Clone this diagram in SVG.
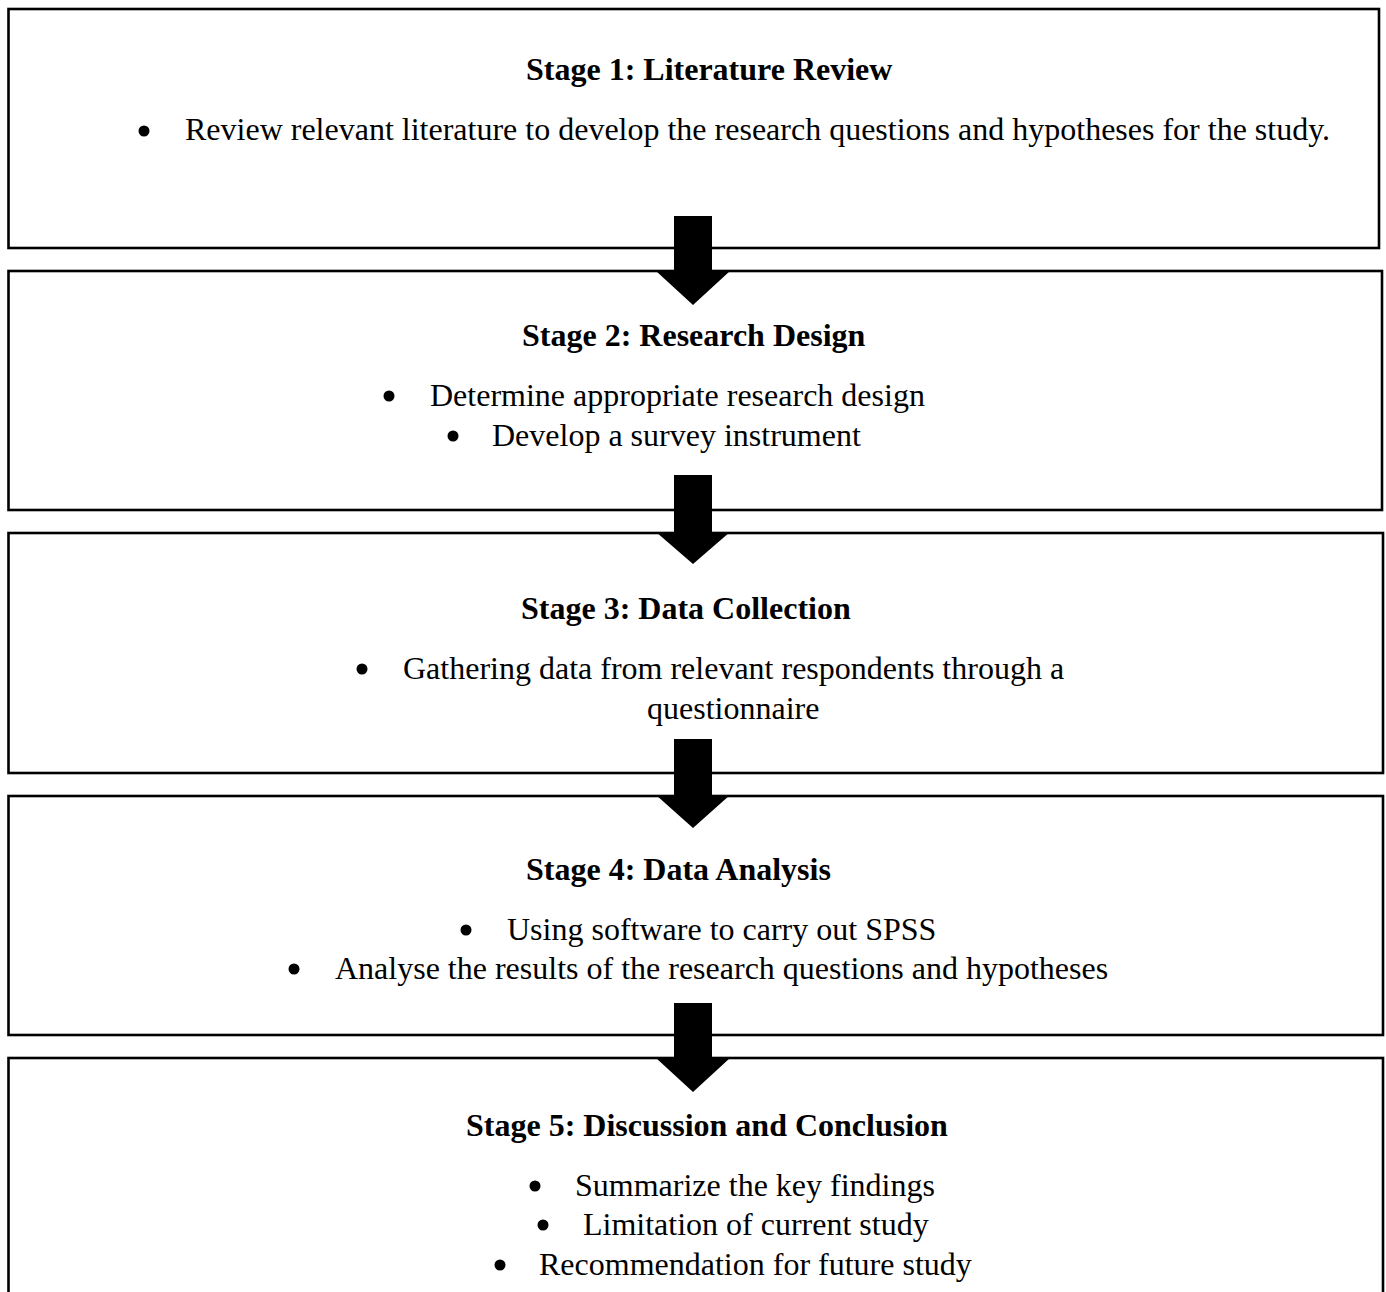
<svg xmlns="http://www.w3.org/2000/svg" width="1386" height="1292" viewBox="0 0 1386 1292">
<style>
.box{fill:#fff;stroke:#000;stroke-width:2.6}
.t{font-family:"Liberation Serif","Times New Roman",serif;font-size:32px;fill:#000}
.b{font-weight:bold}
.arrow{fill:#000}
</style>
<rect width="1386" height="1292" fill="#fff"/>
<g id="stage1">
<rect class="box" x="8.5" y="9" width="1370.5" height="239"/>
<text class="t b" x="526" y="80">Stage 1: Literature Review</text>
<circle cx="144" cy="131" r="5.5"/>
<text class="t" x="185" y="140">Review relevant literature to develop the research questions and hypotheses for the study.</text>
</g>
<g id="stage2">
<rect class="box" x="8.5" y="271" width="1373.5" height="239"/>
<text class="t b" x="522" y="346">Stage 2: Research Design</text>
<circle cx="389" cy="396" r="5.5"/>
<text class="t" x="430" y="406">Determine appropriate research design</text>
<circle cx="453" cy="436" r="5.5"/>
<text class="t" x="492" y="446">Develop a survey instrument</text>
</g>
<g id="stage3">
<rect class="box" x="8.5" y="533" width="1374.5" height="240"/>
<text class="t b" x="521" y="619">Stage 3: Data Collection</text>
<circle cx="362" cy="669" r="5.5"/>
<text class="t" x="403" y="679">Gathering data from relevant respondents through a</text>
<text class="t" x="647" y="719">questionnaire</text>
</g>
<g id="stage4">
<rect class="box" x="8.5" y="796" width="1374.5" height="239"/>
<text class="t b" x="526" y="880">Stage 4: Data Analysis</text>
<circle cx="466" cy="930" r="5.5"/>
<text class="t" x="507" y="940">Using software to carry out SPSS</text>
<circle cx="294" cy="969" r="5.5"/>
<text class="t" x="335" y="979">Analyse the results of the research questions and hypotheses</text>
</g>
<g id="stage5">
<rect class="box" x="8.5" y="1058" width="1374.5" height="260"/>
<text class="t b" x="466" y="1136">Stage 5: Discussion and Conclusion</text>
<circle cx="535" cy="1186" r="5.5"/>
<text class="t" x="575" y="1196">Summarize the key findings</text>
<circle cx="543" cy="1225" r="5.5"/>
<text class="t" x="583" y="1235">Limitation of current study</text>
<circle cx="500" cy="1265" r="5.5"/>
<text class="t" x="539" y="1275">Recommendation for future study</text>
</g>
<g id="connectors">
<polygon class="arrow" points="674,216 712,216 712,271 730,271 693,305 656,271 674,271"/>
<polygon class="arrow" points="674,475 712,475 712,532 730,532 693,564 656,532 674,532"/>
<polygon class="arrow" points="674,739 712,739 712,795 730,795 693,828 656,795 674,795"/>
<polygon class="arrow" points="674,1003 712,1003 712,1058 730,1058 693,1092 656,1058 674,1058"/>
</g>
</svg>
